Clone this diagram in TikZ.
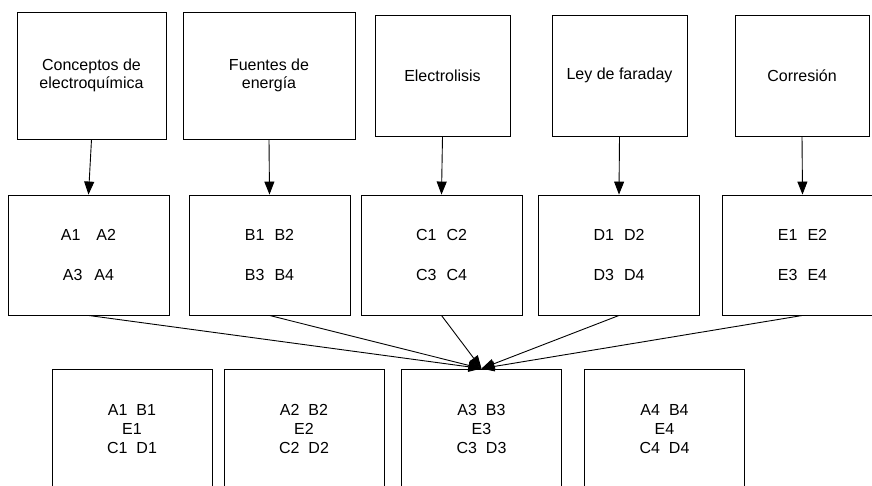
\documentclass[tikz,border=0pt]{standalone}
\usepackage{fontspec}
\setmainfont{Liberation Sans}
\usetikzlibrary{arrows.meta}
\usetikzlibrary{positioning}

\begin{document}
\begin{tikzpicture}[x=1pt,y=-1pt,line width=0.9pt,>={Triangle[width=10pt,length=13pt]},
	caja/.style={draw,inner sep=0pt,align=center,font=\fontsize{16}{18.4}\selectfont},
	grupo/.style={caja,minimum width=161pt,minimum height=120pt},
	mezcla/.style={caja,minimum width=160pt,minimum height=120pt,font=\fontsize{16}{19.4}\selectfont}]
\useasboundingbox (0,0) rectangle (872,485);

% Los temas
\node[caja,minimum width=149pt,minimum height=127pt] (tema1) at (91.5,75.5) {Conceptos de\\electroquímica};
\node[caja,minimum width=172pt,minimum height=127pt] (tema2) at (269,75.5) {Fuentes de\\energía};
\node[caja,minimum width=135pt,minimum height=121pt] (tema3) at (442.5,75.5) {Electrolisis};
\node[caja,minimum width=135pt,minimum height=121pt] (tema4) at (619.5,75.5) {Ley de faraday};
\node[caja,minimum width=134pt,minimum height=121pt] (tema5) at (802,75.5) {Corresión};

% Los grupos
\node[grupo] (A) at (88.5,255) {A1\hspace{16pt}A2\\[21.6pt]A3\hspace{12pt}A4};
\node[grupo] (B) at (269.5,255) {B1\hspace{10pt}B2\\[21.6pt]B3\hspace{10pt}B4};
\node[grupo] (C) at (441.5,255) {C1\hspace{10pt}C2\\[21.6pt]C3\hspace{10pt}C4};
\node[grupo] (D) at (619,255) {D1\hspace{10pt}D2\\[21.6pt]D3\hspace{10pt}D4};
\node[grupo] (E) at (802.5,255) {E1\hspace{10pt}E2\\[21.6pt]E3\hspace{10pt}E4};

% Mezclas
\node[mezcla] (M1) at (132,429) {A1\hspace{9pt}B1\\E1\\C1\hspace{9pt}D1};
\node[mezcla] (M2) at (304,429) {A2\hspace{9pt}B2\\E2\\C2\hspace{9pt}D2};
\node[mezcla] (M3) at (481.5,429) {A3\hspace{9pt}B3\\E3\\C3\hspace{9pt}D3};
\node[mezcla] (M4) at (664.5,429) {A4\hspace{9pt}B4\\E4\\C4\hspace{9pt}D4};

% Flechas
\foreach \t/\g in {tema1/A,tema2/B,tema3/C,tema4/D,tema5/E}{
	\draw[->] (\t.south) -- (\g.north);
}
\foreach \g in {A,B,C,D,E}{
	\draw[->] (\g.south) -- (M3.north);
}
\end{tikzpicture}
\end{document}
